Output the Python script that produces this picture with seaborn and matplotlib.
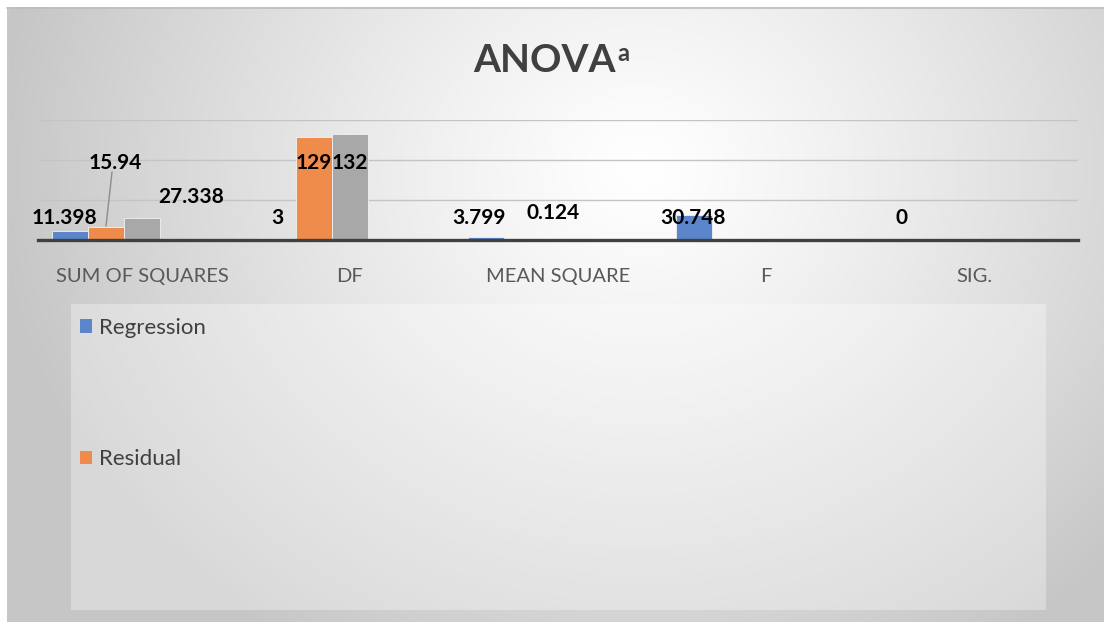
import numpy as np
import pandas as pd
import matplotlib
matplotlib.use("Agg")
import matplotlib.pyplot as plt
from matplotlib.patches import Rectangle, Patch
from matplotlib.colors import to_hex
import seaborn as sns

# ---- data ----
categories = ["SUM OF SQUARES", "DF", "MEAN SQUARE", "F", "SIG."]
regression = [11.398, 3, 3.799, 30.748, 0]
residual = [15.94, 129, 0.124, np.nan, np.nan]
total = [27.338, 132, np.nan, np.nan, np.nan]
series_names = ["Regression", "Residual", "Total"]
slot_order = ["Regression", "Residual", "Total", "Series4", "Series5"]
legend_shown = ["Regression", "Residual"]
title_main = "ANOVA"
title_sup = "a"

colors = {"Regression": "#5B86CC", "Residual": "#EF8C4C", "Total": "#A8A8A8",
          "Series4": "#FFC000", "Series5": "#4472C4"}

rows = []
for s, vals in zip(series_names, [regression, residual, total]):
    for c, v in zip(categories, vals):
        if not np.isnan(v):
            rows.append({"cat": c, "series": s, "value": v})
df = pd.DataFrame(rows)

sns.set_theme(style="white")
plt.rcParams["font.family"] = ["Lato", "DejaVu Sans"]

W, H = 1104, 622
fig = plt.figure(figsize=(W / 100, H / 100), dpi=100)
fig.patch.set_facecolor("white")

# background gradient (pixel coords)
bg = fig.add_axes([0, 0, 1, 1], zorder=-10)
bg.set_xlim(0, W)
bg.set_ylim(H, 0)
bg.axis("off")
yy, xx = np.mgrid[0:H - 7, 0:W - 7]
xx = xx + 7
yy = yy + 7
d = np.sqrt(((xx - 640) / 640.0) ** 2 + ((yy - 170) / 560.0) ** 2)
t = np.clip(d, 0, 1) ** 1.2
g = 1.0 - (1.0 - 0.78) * t
img = np.dstack([g, g, g])
bg.imshow(img, extent=(7, W, H, 7), aspect="auto", interpolation="bilinear", zorder=0)
bg.plot([7, W], [7.5, 7.5], color="#bdbdbd", lw=1.2, zorder=1)
bg.plot([7.5, 7.5], [7, H], color="#c8c8c8", lw=1.0, zorder=1)
bg.add_patch(Rectangle((71, 304), 975, 306, facecolor="white", alpha=0.32,
                       edgecolor="none", zorder=2))

# main axes
ax = fig.add_axes([38 / W, 1 - 240 / H, 1040 / W, 120 / H])
ax.set_facecolor("none")
sns.barplot(data=df, x="cat", y="value", hue="series", hue_order=slot_order,
            order=categories, palette=colors, width=0.865, saturation=1,
            errorbar=None, legend=False, ax=ax, zorder=3,
            edgecolor="#f2f2f2", linewidth=0.6)
ax.set_xlim(-0.5, 4.5)
ax.set_ylim(0, 150)
ax.set_yticks([0, 50, 100, 150])
ax.set_yticklabels([])
ax.yaxis.grid(True, color="#c4c4c4", lw=1.0)
ax.set_axisbelow(True)
for sp in ["top", "right", "left"]:
    ax.spines[sp].set_visible(False)
ax.spines["bottom"].set_color("#404040")
ax.spines["bottom"].set_linewidth(2.4)
ax.spines["bottom"].set_zorder(5)
ax.set_xlabel("")
ax.set_ylabel("")
ax.tick_params(axis="both", length=0)
ax.tick_params(axis="x", pad=20, labelsize=14.5, labelcolor="#595959")

# data labels: (series, category) -> (dx in pixels from bar centre, label y in data units)
px = 1.0 / 208.0
label_place = {
    ("Regression", "SUM OF SQUARES"): (-6, 27.4),
    ("Regression", "DF"): (-1, 27.4),
    ("Regression", "MEAN SQUARE"): (-7, 27.4),
    ("Regression", "F"): (-1, 27.4),
    ("Regression", "SIG."): (-1, 27.4),
    ("Residual", "SUM OF SQUARES"): (9, 96),
    ("Residual", "DF"): (0, 96),
    ("Residual", "MEAN SQUARE"): (31, 33.6),
    ("Total", "SUM OF SQUARES"): (49, 53.5),
    ("Total", "DF"): (0, 96),
}
color_to_series = {to_hex(colors[s]).lower(): s for s in series_names}
for p in ax.patches:
    fc = to_hex(p.get_facecolor()).lower()
    if fc not in color_to_series:
        continue
    s = color_to_series[fc]
    xc = p.get_x() + p.get_width() / 2
    h = p.get_height()
    c = categories[int(round(xc))]
    key = (s, c)
    if key not in label_place:
        continue
    dx, ly = label_place[key]
    ax.text(xc + dx * px, ly, f"{h:g}", ha="center", va="center",
            fontsize=15, fontweight="bold", color="black", zorder=6,
            clip_on=False)
    if key == ("Residual", "SUM OF SQUARES"):
        ax.plot([xc, xc + 6 * px], [h + 1.5, ly - 11], color="#8c8c8c",
                lw=1.0, zorder=6, clip_on=False)

# title
fig.canvas.draw()
r = fig.canvas.get_renderer()
tt = fig.text(544 / W, 1 - 72 / H, title_main, ha="center", va="baseline",
              fontsize=28, fontweight="bold", color="#404040")
bb = tt.get_window_extent(renderer=r)
fig.text((bb.x1 + 2) / W, 1 - 61 / H, title_sup, ha="left", va="baseline",
         fontsize=17, fontweight="bold", color="#404040")

# legend
handles = [Patch(facecolor=colors[s], edgecolor="none") for s in legend_shown]
leg = fig.legend(handles, legend_shown, loc="upper left",
                 bbox_to_anchor=(80 / W, 1 - 318 / H), frameon=False,
                 fontsize=16, labelcolor="#404040", handlelength=0.55,
                 handleheight=0.55, handletextpad=0.3, labelspacing=5.0,
                 borderpad=0, borderaxespad=0)

fig.savefig("out.png", dpi=100)
